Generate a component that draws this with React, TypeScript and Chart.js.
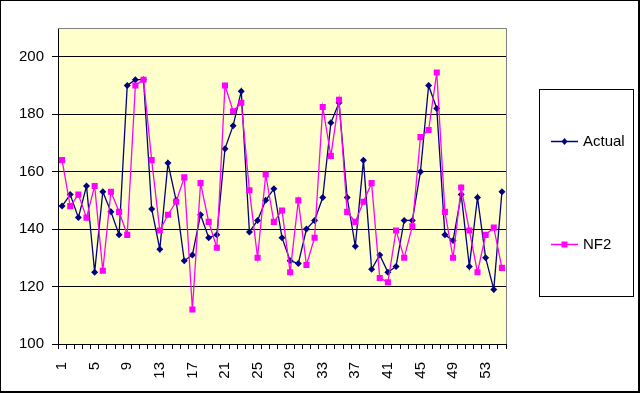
import React, { useEffect, useRef } from "react";
import { Chart, registerables } from "chart.js";

Chart.register(...registerables);

const categories: string[] = Array.from({ length: 55 }, (_, i) => String(i + 1));

const actualValues: number[] = [
  148, 152, 144, 155, 125, 153, 146, 138, 190, 192,
  192, 147, 133, 163, 150, 129, 131, 145, 137, 138,
  168, 176, 188, 139, 143, 150, 154, 137, 129, 128,
  140, 143, 151, 177, 184, 151, 134, 164, 126, 131,
  125, 127, 143, 143, 160, 190, 182, 138, 136, 152,
  127, 151, 130, 119, 153,
];

const nf2Values: number[] = [
  164, 148, 152, 144, 155, 125.5, 153, 146, 138, 190,
  192, 164, 139.5, 145, 149.5, 158, 112, 156, 142.5, 133.5,
  190, 181, 184, 153.5, 130, 159, 142.5, 146.5, 125, 150,
  127.5, 137, 182.5, 165.5, 185, 146, 142.5, 149.5, 156, 123,
  121.5, 139.5, 130, 141, 172, 174.5, 194.5, 146, 130, 154.5,
  139.5, 125, 138, 140.5, 126.5,
];

const yTickValues: number[] = [100, 120, 140, 160, 180, 200];
const seriesNames: string[] = ["Actual", "NF2"];

const FONT = "'Liberation Sans', Arial, sans-serif";
const NAVY = "#000080";
const MAGENTA = "#FF00FF";

const framePlugin = {
  id: "framePlugin",
  beforeDraw(chart: any) {
    const { ctx, chartArea } = chart;
    ctx.save();
    ctx.fillStyle = "#FFFFFF";
    ctx.fillRect(0, 0, chart.width, chart.height);
    ctx.fillStyle = "#FFFFCC";
    ctx.fillRect(chartArea.left, chartArea.top, chartArea.right - chartArea.left, chartArea.bottom - chartArea.top);
    ctx.restore();
  },
  beforeDatasetsDraw(chart: any) {
    const { ctx, chartArea } = chart;
    ctx.save();
    ctx.strokeStyle = "#808080";
    ctx.lineWidth = 1;
    ctx.beginPath();
    ctx.moveTo(chartArea.left, Math.round(chartArea.top) + 0.5);
    ctx.lineTo(Math.round(chartArea.right) + 0.5, Math.round(chartArea.top) + 0.5);
    ctx.lineTo(Math.round(chartArea.right) + 0.5, chartArea.bottom);
    ctx.stroke();
    ctx.restore();
  },
  afterDraw(chart: any) {
    const { ctx } = chart;
    ctx.save();
    ctx.fillStyle = "#000000";
    ctx.fillRect(0, 0, 640, 1);
    ctx.fillRect(0, 0, 1, 393);
    ctx.fillRect(638, 0, 2, 393);
    ctx.fillRect(0, 391, 640, 2);
    ctx.strokeStyle = "#000000";
    ctx.lineWidth = 1;
    ctx.strokeRect(539.5, 89.5, 94, 207);
    const entries = [
      { name: seriesNames[0], color: NAVY, y: 141.5, shape: "diamond" },
      { name: seriesNames[1], color: MAGENTA, y: 244.5, shape: "square" },
    ];
    entries.forEach((e) => {
      ctx.strokeStyle = e.color;
      ctx.lineWidth = 1.5;
      ctx.beginPath();
      ctx.moveTo(551, e.y);
      ctx.lineTo(578, e.y);
      ctx.stroke();
      ctx.fillStyle = e.color;
      const cx = 564.5;
      if (e.shape === "diamond") {
        ctx.beginPath();
        ctx.moveTo(cx, e.y - 3.5);
        ctx.lineTo(cx + 3, e.y);
        ctx.lineTo(cx, e.y + 3.5);
        ctx.lineTo(cx - 3, e.y);
        ctx.closePath();
        ctx.fill();
      } else {
        ctx.fillRect(cx - 3, e.y - 3, 6, 6);
      }
      ctx.fillStyle = "#000000";
      ctx.font = `15px ${FONT}`;
      ctx.textAlign = "left";
      ctx.textBaseline = "middle";
      ctx.fillText(e.name, 583, e.y + 0.5);
    });
    ctx.restore();
  },
};

export default function App() {
  const canvasRef = useRef<HTMLCanvasElement | null>(null);

  useEffect(() => {
    const canvas = canvasRef.current;
    if (!canvas) return;
    const chart = new Chart(canvas, {
      type: "line",
      data: {
        labels: categories,
        datasets: [
          {
            label: seriesNames[0],
            data: actualValues,
            borderColor: NAVY,
            backgroundColor: NAVY,
            borderWidth: 1.3,
            pointStyle: "rectRot",
            pointRadius: 3.5,
            pointBorderWidth: 0,
            pointBackgroundColor: NAVY,
            tension: 0,
            order: 1,
          },
          {
            label: seriesNames[1],
            data: nf2Values,
            borderColor: MAGENTA,
            backgroundColor: MAGENTA,
            borderWidth: 1.3,
            pointStyle: "rect",
            pointRadius: 4.3,
            pointBorderWidth: 0,
            pointBackgroundColor: MAGENTA,
            tension: 0,
            order: 0,
          },
        ],
      },
      options: {
        responsive: false,
        animation: false,
        devicePixelRatio: 1,
        layout: { padding: { top: 28, right: 136, left: 0, bottom: 0 } },
        plugins: {
          legend: { display: false },
          tooltip: { enabled: false },
        },
        font: { family: FONT, size: 15 },
        scales: {
          x: {
            type: "category",
            offset: true,
            afterFit: (scale: any) => {
              scale.height = 50;
            },
            grid: {
              display: true,
              offset: true,
              drawOnChartArea: false,
              drawTicks: true,
              tickLength: 5,
              color: "#000000",
              tickColor: "#000000",
            },
            border: { display: true, color: "#000000", width: 1 },
            ticks: {
              autoSkip: false,
              maxRotation: 90,
              minRotation: 90,
              padding: 13,
              color: "#000000",
              font: { family: FONT, size: 15 },
              callback: (_v: any, idx: number) => (idx % 4 === 0 ? categories[idx] : ""),
            },
          },
          y: {
            type: "linear",
            min: 100,
            max: 210,
            afterFit: (scale: any) => {
              scale.width = 58;
            },
            afterBuildTicks: (scale: any) => {
              scale.ticks = yTickValues.map((v) => ({ value: v }));
            },
            grid: {
              display: true,
              color: "#000000",
              tickColor: "#000000",
              tickLength: 6,
              lineWidth: 1,
            },
            border: { display: true, color: "#000000", width: 1 },
            ticks: {
              padding: 8,
              color: "#000000",
              font: { family: FONT, size: 15 },
            },
          },
        },
      },
      plugins: [framePlugin],
    } as any);
    return () => chart.destroy();
  }, []);

  return (
    <div style={{ position: "fixed", left: 0, top: 0, width: 642, height: 394, background: "#fff" }}>
      <canvas ref={canvasRef} width={642} height={394} style={{ width: 642, height: 394, display: "block" }} />
    </div>
  );
}
